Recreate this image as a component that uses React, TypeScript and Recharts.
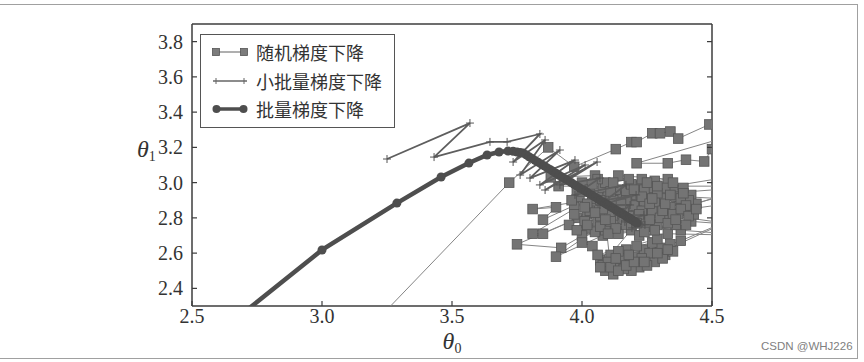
import React from "react";
import { ScatterChart, Scatter, XAxis, YAxis, Legend } from "recharts";

// axis setup
const X_DOMAIN: [number, number] = [2.5, 4.5];
const Y_DOMAIN: [number, number] = [2.3, 3.9];
const X_TICKS = [2.5, 3.0, 3.5, 4.0, 4.5];
const Y_TICKS = [2.4, 2.6, 2.8, 3.0, 3.2, 3.4, 3.6, 3.8];

const SERIES_NAMES = ["随机梯度下降", "小批量梯度下降", "批量梯度下降"];

// stochastic GD path (theta0, theta1)
const sgdPath = [
  [3.14, 2.11], [3.72, 3.0], [3.87, 3.2], [3.97, 3.09], [4.13, 3.19],
  [4.19, 3.23], [4.21, 3.23], [4.27, 3.28], [4.3, 3.28], [4.34, 3.29],
  [4.37, 3.25], [4.49, 3.33], [4.63, 3.29], [4.21, 3.11], [4.33, 3.11],
  [4.4, 3.13], [4.47, 3.12], [4.5, 3.19], [4.68, 3.06], [3.81, 2.85],
  [3.9, 2.86], [3.85, 2.79], [4.06, 2.93], [3.81, 2.71], [3.85, 2.71],
  [4.02, 2.82], [3.75, 2.65], [3.92, 2.63], [4.12, 2.8], [3.9, 2.58],
  [4.08, 2.7], [4.64, 2.98], [3.91, 2.98], [3.88, 3.03], [4.05, 3.04],
  [4.0, 3.0], [4.15, 2.92], [4.05, 2.86], [4.22, 2.98], [4.1, 2.88],
  [4.28, 3.01], [4.18, 2.85], [4.35, 2.96], [4.2, 2.9], [4.42, 2.93],
  [4.25, 2.82], [4.38, 2.88], [4.12, 2.76], [4.3, 2.86], [4.02, 2.74],
  [4.24, 2.88], [3.98, 2.8], [4.17, 2.95], [4.08, 2.97], [4.33, 3.02],
  [4.14, 3.04], [4.26, 2.93], [4.66, 2.9], [4.06, 2.78], [4.4, 2.84],
  [4.22, 2.78], [4.44, 2.88], [4.32, 2.8], [4.0, 2.7], [4.19, 2.73],
  [4.36, 2.92], [4.04, 2.91], [4.27, 2.97], [3.97, 2.86], [4.11, 2.83],
  [4.31, 2.91], [4.16, 2.79], [4.42, 2.78], [4.6, 2.76], [4.21, 2.84],
  [4.03, 2.96], [4.29, 2.76], [4.09, 2.73], [4.37, 2.82], [4.13, 2.96],
  [3.99, 2.92], [4.23, 3.02], [4.07, 2.81], [4.34, 2.86], [4.19, 2.99],
  [4.01, 2.78], [4.27, 2.84], [4.15, 2.87], [4.39, 2.97], [4.1, 2.92],
  [4.0, 2.66], [4.04, 2.64], [4.09, 2.5], [4.13, 2.53], [4.18, 2.55],
  [4.22, 2.52], [4.28, 2.55], [4.32, 2.59], [4.24, 2.62], [4.17, 2.62],
  [4.11, 2.59], [4.07, 2.56], [4.34, 2.65], [4.38, 2.67], [4.62, 2.82],
  [4.12, 2.48], [4.2, 2.58], [4.26, 2.6], [4.15, 2.57], [4.3, 2.63],
  [4.08, 2.53], [4.23, 2.57], [4.19, 2.5], [4.27, 2.66], [4.14, 2.61],
  [4.1, 2.55], [4.31, 2.57], [4.21, 2.64], [4.16, 2.51], [4.25, 2.53],
  [4.35, 2.61], [4.06, 2.59], [4.29, 2.68], [4.22, 2.7], [4.33, 2.71],
  [4.65, 2.7], [4.38, 2.73], [4.25, 2.75], [4.05, 2.72], [4.41, 2.9],
  [4.18, 2.81], [4.32, 2.97], [3.95, 2.76], [4.14, 2.71], [4.36, 2.76],
  [4.21, 2.93], [4.09, 3.0], [4.3, 2.8], [4.03, 2.84], [4.24, 2.96],
  [4.12, 2.9], [4.38, 2.91], [4.17, 2.76], [4.43, 2.82], [4.28, 2.89],
  [3.98, 2.96], [4.2, 2.87], [4.06, 3.02], [4.35, 3.0], [4.16, 2.83],
  [4.26, 2.79], [4.02, 2.88], [4.31, 2.84], [4.11, 2.78], [4.23, 2.92],
  [4.08, 2.85], [4.19, 2.79], [4.4, 2.87], [4.7, 2.98], [3.96, 2.9],
  [4.01, 2.86], [4.04, 2.99], [4.07, 2.9], [4.11, 2.95], [4.14, 2.85],
  [4.17, 2.9], [4.2, 2.96], [4.23, 2.84], [4.26, 2.88], [4.29, 2.94],
  [4.32, 2.88], [4.35, 2.82], [4.38, 2.85], [4.41, 2.81], [4.44, 2.85],
  [4.29, 2.98], [4.25, 3.0], [4.18, 3.02], [4.12, 3.0], [4.0, 2.95],
  [3.97, 2.82], [4.02, 2.76], [4.07, 2.75], [4.13, 2.74], [4.19, 2.76],
  [4.24, 2.72], [4.28, 2.73], [4.33, 2.77], [4.36, 2.79], [4.4, 2.76],
  [4.1, 2.71], [3.98, 2.73], [4.15, 2.88], [4.22, 2.82], [4.27, 2.91],
  [4.34, 2.93], [4.39, 2.94], [4.05, 2.83], [4.09, 2.79], [4.11, 2.52],
  [4.14, 2.5], [4.17, 2.53], [4.2, 2.55], [4.24, 2.55], [4.29, 2.6],
  [4.33, 2.62], [4.18, 2.59], [4.13, 2.57], [4.07, 2.52], [4.21, 2.77],
];

// mini-batch GD path
const miniBatchPath = [
  [3.25, 3.134], [3.569, 3.338], [3.431, 3.145], [3.646, 3.231], [3.712, 3.231],
  [3.838, 3.276], [3.735, 3.117], [3.858, 3.242], [3.762, 3.043], [3.915, 3.185],
  [3.8, 3.026], [3.973, 3.128], [3.838, 2.987], [4.012, 3.1], [3.858, 2.958],
  [4.058, 3.117], [3.915, 2.987], [4.069, 3.026], [3.973, 2.93], [4.169, 2.987],
  [4.092, 2.901], [4.208, 2.93], [4.069, 2.873], [4.185, 2.873], [4.138, 2.816],
  [4.238, 2.816], [4.165, 2.777], [4.242, 2.76], [4.192, 2.743], [4.223, 2.765],
];

// batch GD path
const batchPath = [
  [2.519, 2.05], [3.0, 2.618], [3.288, 2.884], [3.458, 3.032], [3.565, 3.111],
  [3.635, 3.157], [3.681, 3.174], [3.715, 3.179], [3.735, 3.178], [3.75, 3.174],
  [3.762, 3.171], [3.773, 3.168], [3.785, 3.158], [3.796, 3.147], [3.808, 3.137],
  [3.819, 3.126], [3.831, 3.116], [3.842, 3.106], [3.854, 3.096], [3.865, 3.085],
  [3.877, 3.075], [3.888, 3.064], [3.9, 3.053], [3.912, 3.042], [3.923, 3.032],
  [3.935, 3.022], [3.946, 3.011], [3.958, 3.001], [3.969, 2.99], [3.981, 2.98],
  [3.992, 2.969], [4.004, 2.959], [4.014, 2.95], [4.023, 2.942], [4.033, 2.933],
  [4.042, 2.925], [4.052, 2.916], [4.062, 2.907], [4.071, 2.898], [4.081, 2.89],
  [4.089, 2.883], [4.096, 2.876], [4.104, 2.869], [4.112, 2.862], [4.12, 2.855],
  [4.127, 2.848], [4.135, 2.841], [4.142, 2.834], [4.148, 2.829], [4.154, 2.824],
  [4.16, 2.819], [4.165, 2.814], [4.171, 2.808], [4.177, 2.803], [4.182, 2.798],
  [4.188, 2.793], [4.194, 2.787], [4.2, 2.782], [4.206, 2.776], [4.212, 2.771],
];

const toPoints = (path: number[][]) => path.map(([x, y]) => ({ x, y }));

const SERIF = "'Liberation Serif', 'DejaVu Serif', serif";
const CJK = "'Noto Sans CJK SC', 'Noto Sans', sans-serif";
const AXIS_COLOR = "#3c3c3c";

const SquareMark = (props: any) => {
  const { cx, cy } = props;
  return (
    <rect x={cx - 4.8} y={cy - 4.8} width={9.6} height={9.6} fill="#747474" stroke="#565656" strokeWidth={0.8} />
  );
};

const PlusMark = (props: any) => {
  const { cx, cy } = props;
  return (
    <g stroke="#555" strokeWidth={1}>
      <line x1={cx - 4} x2={cx + 4} y1={cy} y2={cy} />
      <line x1={cx} x2={cx} y1={cy - 4} y2={cy + 4} />
    </g>
  );
};

const DotMark = (props: any) => {
  const { cx, cy } = props;
  return <circle cx={cx} cy={cy} r={4.5} fill="#4e4e4e" />;
};

const BottomTick = (props: any) => {
  const { x, y, payload } = props;
  return (
    <g>
      <line x1={x} x2={x} y1={y} y2={y - 5} stroke={AXIS_COLOR} strokeWidth={1.2} />
      <text x={x} y={y + 17} textAnchor="middle" fontFamily={SERIF} fontSize={20} fill="#333">
        {Number(payload.value).toFixed(1)}
      </text>
    </g>
  );
};

const LeftTick = (props: any) => {
  const { x, y, payload } = props;
  return (
    <g>
      <line x1={x} x2={x + 5} y1={y} y2={y} stroke={AXIS_COLOR} strokeWidth={1.2} />
      <text x={x - 9} y={y + 7} textAnchor="end" fontFamily={SERIF} fontSize={20} fill="#333">
        {Number(payload.value).toFixed(1)}
      </text>
    </g>
  );
};

const RightTick = (props: any) => {
  const { x, y } = props;
  return <line x1={x} x2={x - 5} y1={y} y2={y} stroke={AXIS_COLOR} strokeWidth={1.2} />;
};

const ThetaLabel = ({ x, y, sub, anchor }: any) => (
  <text x={x} y={y} textAnchor={anchor} fontFamily={SERIF} fontSize={24} fill="#333">
    <tspan fontStyle="italic">θ</tspan>
    <tspan fontSize={14} dy={4}>{sub}</tspan>
  </text>
);

const LegendIcon = ({ name }: { name: string }) => {
  if (name === SERIES_NAMES[0]) {
    return (
      <svg width={36} height={16}>
        <line x1={4} x2={32} y1={8} y2={8} stroke="#7a7a7a" strokeWidth={1.2} />
        <rect x={0.5} y={4.5} width={7} height={7} fill="#7c7c7c" stroke="#555" strokeWidth={0.8} />
        <rect x={28.5} y={4.5} width={7} height={7} fill="#7c7c7c" stroke="#555" strokeWidth={0.8} />
      </svg>
    );
  }
  if (name === SERIES_NAMES[1]) {
    return (
      <svg width={36} height={16}>
        <line x1={1} x2={35} y1={8} y2={8} stroke="#666" strokeWidth={1.3} />
        <line x1={4} x2={4} y1={5} y2={11} stroke="#666" strokeWidth={1} />
        <line x1={32} x2={32} y1={5} y2={11} stroke="#666" strokeWidth={1} />
      </svg>
    );
  }
  return (
    <svg width={36} height={16}>
      <line x1={4} x2={32} y1={8} y2={8} stroke="#4e4e4e" strokeWidth={3.5} />
      <circle cx={4.5} cy={8} r={4} fill="#4e4e4e" />
      <circle cx={31.5} cy={8} r={4} fill="#4e4e4e" />
    </svg>
  );
};

const LegendBox = (props: any) => {
  const items = [...((props.payload || []) as any[])].sort(
    (a, b) => SERIES_NAMES.indexOf(a.value) - SERIES_NAMES.indexOf(b.value)
  );
  return (
    <div
      style={{
        border: "1.5px solid #555",
        background: "#fff",
        width: 193,
        padding: "3px 0 3px 0",
        boxSizing: "content-box",
      }}
    >
      {items.map((item) => (
        <div key={item.value} style={{ display: "flex", alignItems: "center", height: 28.5 }}>
          <div style={{ marginLeft: 11, width: 36, height: 16 }}>
            <LegendIcon name={item.value} />
          </div>
          <span
            style={{ marginLeft: 8, fontFamily: CJK, fontSize: 18, color: "#333", lineHeight: "20px" }}
          >
            {item.value}
          </span>
        </div>
      ))}
    </div>
  );
};

export default function App() {
  return (
    <div style={{ position: "absolute", left: 0, top: 0, width: 864, height: 362, background: "#fff" }}>
      <div
        style={{
          position: "absolute",
          left: 0,
          top: 4,
          width: 857,
          height: 353,
          borderTop: "1.5px solid #a0a0a0",
          borderRight: "1.5px solid #a0a0a0",
          borderBottom: "1.5px solid #a0a0a0",
        }}
      />
      <ScatterChart width={864} height={362} margin={{ top: 23, right: 151, bottom: 26, left: 132 }}>
        <XAxis
          type="number"
          dataKey="x"
          domain={X_DOMAIN}
          ticks={X_TICKS}
          interval={0}
          allowDataOverflow
          height={30}
          tickSize={0}
          tickMargin={0}
          tickLine={false}
          tick={BottomTick}
          axisLine={{ stroke: AXIS_COLOR, strokeWidth: 1.5 }}
          label={{
            content: (p: any) => {
              const vb = p.viewBox || { x: 192, y: 306, width: 520 };
              return <ThetaLabel x={vb.x + vb.width / 2} y={vb.y + 43} sub="0" anchor="middle" />;
            },
          }}
        />
        <XAxis
          xAxisId="top"
          orientation="top"
          type="number"
          domain={X_DOMAIN}
          allowDataOverflow
          height={1}
          tick={false}
          tickLine={false}
          axisLine={{ stroke: AXIS_COLOR, strokeWidth: 1.5 }}
        />
        <YAxis
          type="number"
          dataKey="y"
          domain={Y_DOMAIN}
          ticks={Y_TICKS}
          interval={0}
          allowDataOverflow
          width={60}
          tickSize={0}
          tickMargin={0}
          tickLine={false}
          tick={LeftTick}
          axisLine={{ stroke: AXIS_COLOR, strokeWidth: 1.5 }}
          label={{
            content: (p: any) => {
              const vb = p.viewBox || { x: 132, y: 24 };
              return <ThetaLabel x={vb.x + 5} y={vb.y + 133} sub="1" anchor="start" />;
            },
          }}
        />
        <YAxis
          yAxisId="right"
          orientation="right"
          type="number"
          domain={Y_DOMAIN}
          ticks={Y_TICKS}
          interval={0}
          allowDataOverflow
          width={1}
          tickSize={0}
          tickMargin={0}
          tickLine={false}
          tick={RightTick}
          axisLine={{ stroke: AXIS_COLOR, strokeWidth: 1.5 }}
        />
        <Legend
          layout="vertical"
          align="center"
          verticalAlign="middle"
          wrapperStyle={{ left: 200, top: 34, width: "auto" }}
          content={LegendBox}
        />
        <Scatter
          name={SERIES_NAMES[0]}
          data={toPoints(sgdPath)}
          line={{ stroke: "#858585", strokeWidth: 1 }}
          shape={SquareMark}
          fill="#747474"
          isAnimationActive={false}
        />
        <Scatter
          name={SERIES_NAMES[1]}
          data={toPoints(miniBatchPath)}
          line={{ stroke: "#5e5e5e", strokeWidth: 1.8 }}
          shape={PlusMark}
          fill="#5e5e5e"
          isAnimationActive={false}
        />
        <Scatter
          name={SERIES_NAMES[2]}
          data={toPoints(batchPath)}
          line={{ stroke: "#4e4e4e", strokeWidth: 4.5 }}
          shape={DotMark}
          fill="#4e4e4e"
          isAnimationActive={false}
        />
      </ScatterChart>
      <span
        style={{
          position: "absolute",
          left: 761,
          top: 340,
          fontFamily: "'Liberation Sans', Arial, sans-serif",
          fontSize: 11.5,
          color: "#808080",
        }}
      >
        CSDN @WHJ226
      </span>
    </div>
  );
}
